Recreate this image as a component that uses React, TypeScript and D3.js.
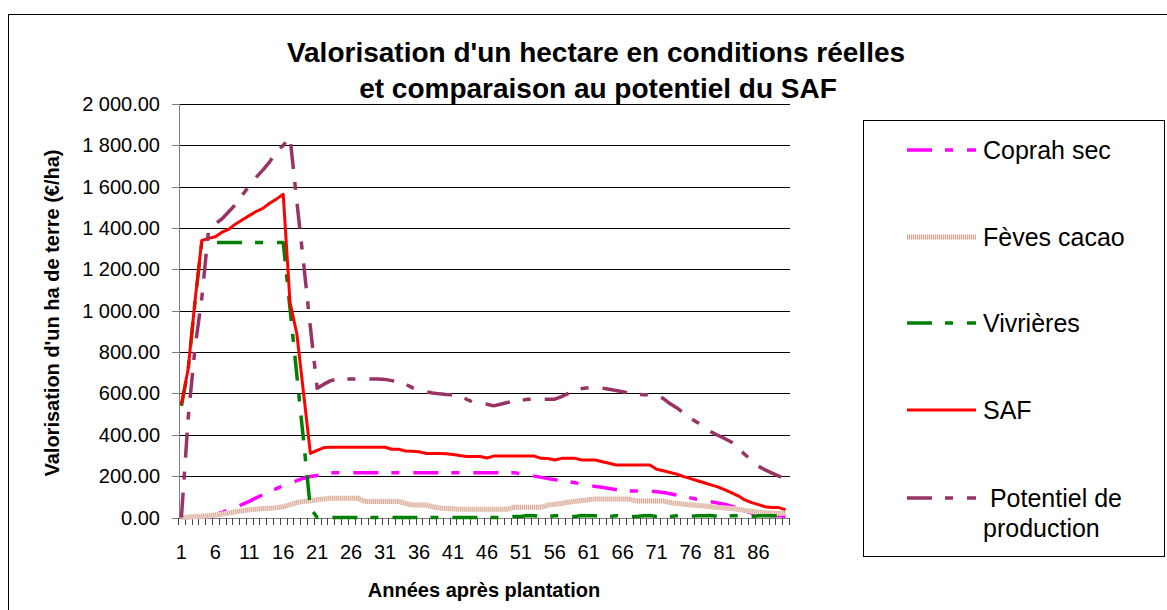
import React from 'react';
import * as d3 from 'd3';

// years after planting (categories)
const years: number[] = d3.range(1, 91);
const labelYears: number[] = years.filter(d => (d - 1) % 5 === 0);
const yTicks: number[] = d3.range(0, 2001, 200);

const coprah: number[] = [
  0, 0, 2, 5, 9, 15, 25, 38, 50, 64,
  78, 95, 110, 125, 140, 155, 165, 178, 190, 198,
  203, 212, 217, 217, 217, 217, 217, 217, 217, 217,
  217, 217, 217, 217, 217, 217, 217, 217, 217, 217,
  217, 217, 217, 217, 217, 217, 217, 217, 217, 217,
  212, 206, 200, 194, 188, 183, 178, 173, 168, 162,
  156, 150, 146, 140, 135, 130, 128, 128, 128, 128,
  125, 121, 115, 108, 100, 95, 88, 82, 76, 70,
  64, 55, 45, 30, 22, 16, 12, 10, 8, 6
];

const feves: number[] = [
  0, 2, 4, 6, 9, 12, 17, 22, 28, 33,
  37, 40, 43, 45, 47, 52, 62, 72, 78, 81,
  86, 90, 93, 93, 93, 93, 93, 77, 77, 77,
  77, 77, 77, 68, 60, 60, 60, 52, 46, 44,
  42, 40, 40, 40, 40, 40, 40, 40, 40, 49,
  49, 49, 49, 49, 60, 64, 68, 74, 78, 82,
  86, 89, 89, 89, 89, 89, 89, 80, 80, 80,
  80, 80, 72, 68, 64, 61, 58, 56, 52, 49,
  46, 43, 40, 34, 30, 26, 23, 21, 20, 20
];

const vivrieres: number[] = [
  540, 715, 1040, 1330, 1330, 1330, 1330, 1330, 1330, 1330,
  1330, 1330, 1330, 1330, 1330, 1330, 1010, 690, 370, 45,
  0, 0, 0, 0, 0, 0, 0, 0, 0, 0,
  0, 0, 0, 0, 0, 0, 0, 0, 0, 0,
  0, 0, 0, 0, 0, 0, 0, 0, 0, 5,
  5, 10, 8, 5, 5, 8, 8, 5, 5, 10,
  8, 8, 5, 5, 8, 8, 5, 5, 8, 10,
  5, 5, 5, 8, 8, 5, 8, 8, 10, 5,
  5, 8, 8, 5, 5, 8, 8, 8, 8, 5
];

const saf: number[] = [
  545, 720, 1045, 1340, 1350, 1358, 1380, 1395, 1420, 1440,
  1460, 1480, 1495, 1520, 1540, 1563, 1040, 890, 600, 310,
  325, 338, 340, 340, 340, 340, 340, 340, 340, 340,
  340, 330, 330, 322, 320, 318, 310, 310, 310, 308,
  305, 300, 295, 295, 295, 288, 297, 297, 297, 297,
  297, 297, 297, 286, 285, 278, 286, 286, 286, 278,
  278, 278, 270, 262, 254, 254, 254, 254, 254, 254,
  233, 226, 218, 210, 198, 188, 178, 168, 158, 148,
  135, 120, 105, 85, 72, 62, 52, 48, 48, 38
];

const potentiel: number[] = [
  0, 480, 820, 1060, 1390, 1420, 1445, 1480, 1515, 1560,
  1605, 1645, 1680, 1720, 1770, 1800, 1840, 1530, 1230, 920,
  625, 645, 662, 670, 670, 670, 670, 670, 670, 670,
  668, 662, 655, 645, 628, 615, 608, 602, 598, 595,
  593, 585, 572, 558, 552, 548, 540, 548, 556, 562,
  566, 572, 572, 572, 572, 572, 585, 600, 615, 624,
  628, 630, 626, 620, 614, 608, 602, 595, 594, 594,
  594, 575, 550, 530, 505, 480, 460, 438, 415, 398,
  382, 365, 335, 305, 275, 248, 230, 215, 200, 185
];

const longDashDot = '25,13,8,14';

const series = [
  { name: 'Coprah sec', values: coprah, color: '#FF00FF', dash: longDashDot, kind: 'dash' },
  { name: 'Fèves cacao', values: feves, color: '#D9AB98', dash: '', kind: 'hatch' },
  { name: 'Vivrières', values: vivrieres, color: '#008000', dash: longDashDot, kind: 'dash' },
  { name: 'SAF', values: saf, color: '#FF0000', dash: '', kind: 'solid' },
  { name: ' Potentiel de|production', values: potentiel, color: '#993366', dash: longDashDot, kind: 'dash' }
];

const font = '"Liberation Sans", Arial, sans-serif';

const fmt = (v: number) => d3.format(',.2f')(v).replace(/,/g, ' ');

export default function App() {
  const x = d3.scaleBand<number>().domain(years).range([178, 789]).padding(0);
  const y = d3.scaleLinear().domain([0, 2000]).range([517.5, 104]);
  const cx = (c: number) => (x(c) as number) + x.bandwidth() / 2;

  const line = d3.line<number>()
    .x((d, i) => cx(years[i]))
    .y(d => y(d));

  const bounds = years.map(c => x(c) as number).concat([x.range()[1]]);

  const legendY = [150, 237, 323, 410, 498];

  const drawSeries = (s: any, d: string, key: string) => {
    if (s.kind === 'hatch') {
      return (
        <g key={key}>
          <path d={d} fill="none" stroke="#F2DFD6" strokeWidth={5} />
          <path d={d} fill="none" stroke={s.color} strokeWidth={5} strokeDasharray="1,1" />
        </g>
      );
    }
    return (
      <path key={key} d={d} fill="none" stroke={s.color} strokeWidth={s.kind === 'dash' ? 3.5 : 3}
        strokeDasharray={s.dash || undefined} strokeLinejoin="round" strokeLinecap="butt" />
    );
  };

  return (
    <svg width={1167} height={610} style={{ position: 'absolute', left: 0, top: 0, background: '#fff' }}
      fontFamily={font}>
      <rect x={8.5} y={14.5} width={1300} height={800} fill="#fff" stroke="#000" />

      <text x={596} y={62} textAnchor="middle" fontSize={28} fontWeight="bold">
        Valorisation d'un hectare en conditions réelles
      </text>
      <text x={598} y={98} textAnchor="middle" fontSize={28} fontWeight="bold">
        et comparaison au potentiel du SAF
      </text>

      {/* gridlines */}
      {yTicks.map(t => (
        <line key={'g' + t} x1={180} x2={790} y1={Math.round(y(t)) + 0.5} y2={Math.round(y(t)) + 0.5}
          stroke={t === 0 ? '#808080' : '#000'} />
      ))}
      {/* y axis */}
      <line x1={179.5} x2={179.5} y1={104} y2={518} stroke="#808080" />
      {yTicks.map(t => (
        <g key={'yt' + t}>
          <line x1={172} x2={180} y1={Math.round(y(t)) + 0.5} y2={Math.round(y(t)) + 0.5} stroke="#808080" />
          <text x={160} y={y(t)} dy="0.35em" textAnchor="end" fontSize={20}>{fmt(t)}</text>
        </g>
      ))}
      {/* x axis */}
      {bounds.map((b, i) => (
        <line key={'xt' + i} x1={Math.round(b) + 0.5} x2={Math.round(b) + 0.5} y1={518} y2={525} stroke="#444" />
      ))}
      {labelYears.map(c => (
        <text key={'xl' + c} x={cx(c)} y={552} dy="0.35em" textAnchor="middle" fontSize={20}>{c}</text>
      ))}

      <text x={484} y={597} textAnchor="middle" fontSize={20} fontWeight="bold">Années après plantation</text>
      <text transform="translate(59,313) rotate(-90)" textAnchor="middle" fontSize={20} fontWeight="bold">
        Valorisation d'un ha de terre (€/ha)
      </text>

      {/* series */}
      {series.map((s, i) => drawSeries(s, line(s.values) as string, 's' + i))}

      {/* legend */}
      <rect x={863.5} y={120.5} width={301} height={436} fill="none" stroke="#000" />
      {series.map((s, i) => {
        const ly = legendY[i];
        const parts = s.name.split('|');
        const d = `M907,${ly}L976,${ly}`;
        return (
          <g key={'lg' + i}>
            {drawSeries(s, d, 'lgl' + i)}
            {parts.length === 1 ? (
              <text x={983} y={ly} dy="0.35em" fontSize={25}>{s.name}</text>
            ) : (
              <text fontSize={25} style={{ whiteSpace: 'pre' }}>
                <tspan x={983} y={ly} dy="0.35em">{parts[0]}</tspan>
                <tspan x={983} y={ly + 30} dy="0.35em">{parts[1]}</tspan>
              </text>
            )}
          </g>
        );
      })}
    </svg>
  );
}
